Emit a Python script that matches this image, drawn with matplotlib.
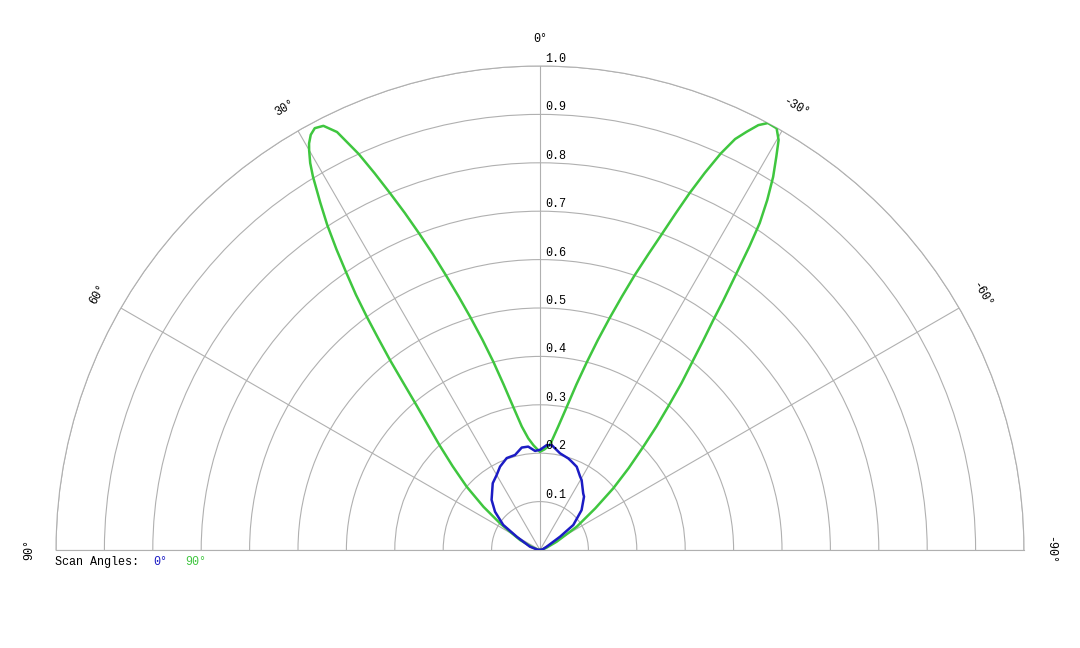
import numpy as np
import matplotlib
matplotlib.use('Agg')
import matplotlib.pyplot as plt
from matplotlib.transforms import offset_copy

# ---- data (theta in degrees, positive = left side; r = relative intensity) ----
green_theta = [-90, -80, -70, -63.6, -57.6, -53.0, -49.9, -47.3, -45.0, -43.3, -41.8,
               -40.3, -38.9, -37.9, -37.0, -36.3, -35.3, -34.6, -33.9, -33.0, -32.0,
               -31.0, -30.2, -29.3, -28.1, -27.2, -26.3, -25.4, -24.5, -23.6, -22.75,
               -21.95, -21.1, -20.1, -19.0, -17.9, -16.7, -15.4, -14.0, -12.4, -10.6,
               -8.4, -5.4, -2.5, 0, 1, 3.6, 6.0, 8.4, 10.6, 12.4, 13.9, 15.3, 16.6,
               17.8, 18.9, 19.9, 20.9, 21.85, 22.8, 23.7, 24.6, 25.9, 27.05, 28.1,
               28.9, 29.6, 30.0, 30.7, 31.3, 32.3, 33.2, 34.1, 34.9, 35.8, 36.6,
               37.4, 38.3, 39.2, 40.3, 41.8, 43.8, 46.2, 49.2, 52.6, 56.3, 58.6,
               63.4, 70, 80, 90]
green_r = [0.0, 0.005, 0.015, 0.038, 0.090, 0.143, 0.198, 0.249, 0.302, 0.351, 0.397,
           0.452, 0.504, 0.550, 0.595, 0.640, 0.707, 0.762, 0.814, 0.862, 0.909,
           0.948, 0.980, 0.999, 1.000, 0.987, 0.964, 0.940, 0.900, 0.850, 0.800,
           0.750, 0.700, 0.650, 0.600, 0.550, 0.500, 0.450, 0.400, 0.350, 0.301,
           0.258, 0.218, 0.208, 0.203, 0.206, 0.217, 0.232, 0.258, 0.301, 0.350, 0.400, 0.450, 0.500,
           0.550, 0.600, 0.650, 0.700, 0.750, 0.800, 0.850, 0.900, 0.960, 0.984, 0.988,
           0.980, 0.966, 0.954, 0.930, 0.903, 0.850, 0.803, 0.750, 0.701, 0.650, 0.600,
           0.550, 0.500, 0.450, 0.400, 0.350, 0.300, 0.250, 0.200, 0.147, 0.099, 0.073,
           0.046, 0.018, 0.005, 0.0]

blue_theta = [-90, -75, -63.8, -56.4, -53.1, -46.2, -39.5, -37.4, -30.8, -28.6, -23.8,
              -19.7, -17.2, -11.7, -6.4, -3.6, 0, 2.9, 6.5, 10.1, 14.7, 19.9, 25.6,
              30.0, 35.3, 44.0, 49.6, 55.7, 60.3, 71.7, 80, 90]
blue_r = [0.0, 0.006, 0.015, 0.050, 0.086, 0.119, 0.143, 0.147, 0.168, 0.173, 0.188,
          0.194, 0.198, 0.204, 0.218, 0.217, 0.207, 0.205, 0.215, 0.215, 0.203, 0.202, 0.191,
          0.179, 0.169, 0.144, 0.122, 0.092, 0.055, 0.022, 0.006, 0.0]

ring_values = [0.1, 0.2, 0.3, 0.4, 0.5, 0.6, 0.7, 0.8, 0.9, 1.0]
ring_labels = ['0.1', '0.2', '0.3', '0.4', '0.5', '0.6', '0.7', '0.8', '0.9', '1.0']
spoke_angles = [-90, -60, -30, 0, 30, 60, 90]
spoke_labels = ['-90°', '-60°', '-30°', '0°', '30°', '60°', '90°']

series_names = ['0°', '90°']
blue_color = '#1c1cc4'
green_color = '#3fc63f'
grid_color = '#b0b0b0'
mono = 'Liberation Mono'

W, H = 1080, 648
cx, cy, R = 540, 550, 484  # pixel centre and radius of the half-disc

fig = plt.figure(figsize=(10.8, 6.48), dpi=100)
fig.patch.set_facecolor('white')
# polar axes box is square; the half-disc is centred vertically inside it
side = 2 * R
box_bottom_px = (cy - R / 2) + side / 2  # from top
ax = fig.add_axes([(cx - R) / W, (H - box_bottom_px) / H, side / W, side / H],
                  projection='polar')
ax.set_theta_zero_location('N')
ax.set_theta_direction(1)
ax.set_thetamin(-90)
ax.set_thetamax(90)
ax.set_ylim(0, 1)
ax.set_rticks(ring_values)
ax.set_yticklabels([])
ax.set_thetagrids(spoke_angles, labels=[''] * len(spoke_angles))
ax.tick_params(length=0)
ax.grid(True, color=grid_color, lw=0.8)
ax.patch.set_alpha(0)
for s in ax.spines.values():
    s.set_color(grid_color)
    s.set_linewidth(0.8)

ax.plot(np.deg2rad(green_theta), green_r, color=green_color, lw=1.8, zorder=3,
        solid_joinstyle='round')
ax.plot(np.deg2rad(blue_theta), blue_r, color=blue_color, lw=1.8, zorder=3,
        solid_joinstyle='round')

# radial labels along the 0° spoke
tr = offset_copy(ax.transData, fig=fig, x=5, y=1, units='dots')
for v, lab in zip(ring_values, ring_labels):
    ax.text(0, v, lab, transform=tr, ha='left', va='bottom', fontsize=8.5,
            family=mono, color='black', clip_on=False)

# angle labels outside the outer ring
for a, lab in zip(spoke_angles, spoke_labels):
    ax.text(np.deg2rad(a), 1.055, lab, rotation=a, rotation_mode='anchor',
            ha='center', va='center', fontsize=8.5, family=mono, color='black',
            clip_on=False)

# legend
ly = 1 - 562 / 648
fig.text(55 / 1080, ly, 'Scan Angles:', ha='left', va='center', fontsize=8.5,
         family=mono, color='black')
fig.text(153 / 1080, ly, series_names[0], ha='left', va='center', fontsize=8.5,
         family=mono, color=blue_color)
fig.text(185 / 1080, ly, series_names[1], ha='left', va='center', fontsize=8.5,
         family=mono, color=green_color)

fig.savefig('out.png', dpi=100, facecolor='white')
